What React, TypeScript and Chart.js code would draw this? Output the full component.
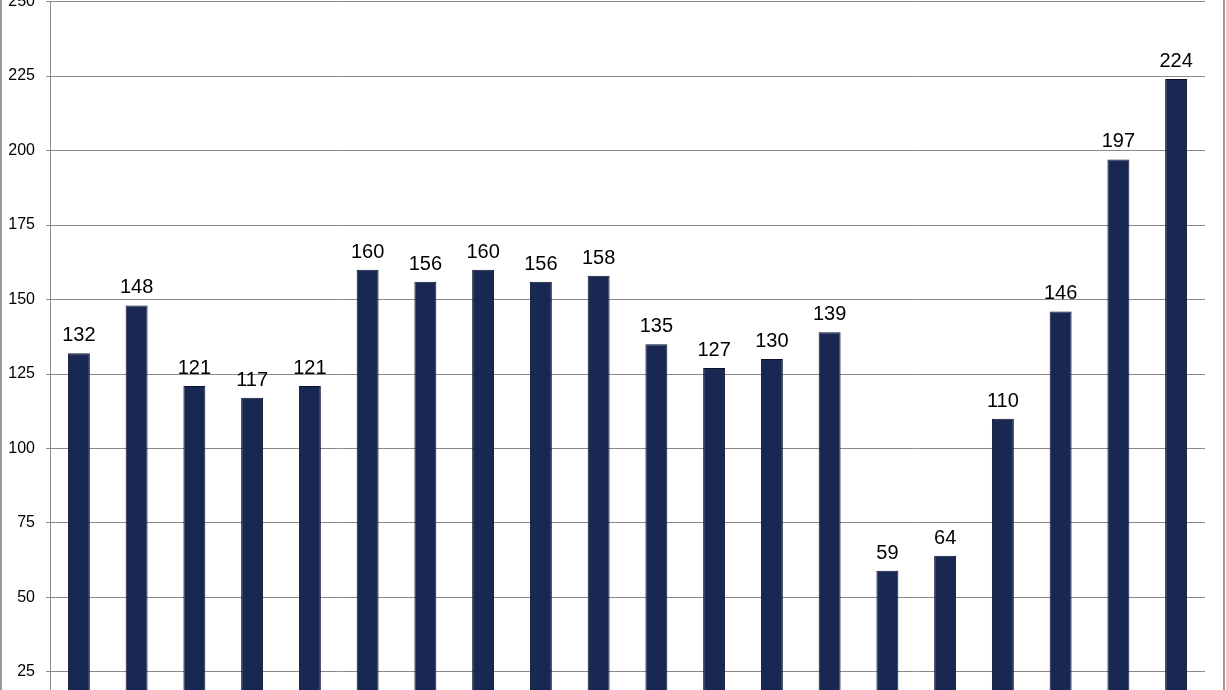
import React, { useEffect, useRef } from "react";
import { Chart, registerables } from "chart.js";

Chart.register(...registerables);

const categories: string[] = [
  "1", "2", "3", "4", "5", "6", "7", "8", "9", "10",
  "11", "12", "13", "14", "15", "16", "17", "18", "19", "20",
];
const values: number[] = [
  132, 148, 121, 117, 121, 160, 156, 160, 156, 158,
  135, 127, 130, 139, 59, 64, 110, 146, 197, 224,
];
const yMin = 0;
const yMax = 250;
const yStep = 25;

const FONT = "'Liberation Sans', Arial, sans-serif";

const valueLabels = {
  id: "valueLabels",
  afterDatasetsDraw(chart: any) {
    const ctx = chart.ctx;
    const meta = chart.getDatasetMeta(0);
    ctx.save();
    ctx.font = `20px ${FONT}`;
    ctx.fillStyle = "#000";
    ctx.textAlign = "center";
    ctx.textBaseline = "alphabetic";
    meta.data.forEach((bar: any, i: number) => {
      ctx.fillText(String(values[i]), bar.x, bar.y - 12);
    });
    ctx.restore();
  },
};

export default function App() {
  const ref = useRef<HTMLCanvasElement | null>(null);

  useEffect(() => {
    if (!ref.current) return;
    const chart = new Chart(ref.current, {
      type: "bar",
      data: {
        labels: categories,
        datasets: [
          {
            data: values,
            backgroundColor: "#192853",
            borderColor: "#0a1230",
            borderWidth: 1,
            barPercentage: 0.38,
            categoryPercentage: 1,
          },
        ],
      },
      options: {
        responsive: false,
        animation: false,
        devicePixelRatio: 1,
        layout: { padding: { top: 20, right: 21, bottom: 10, left: 0 } },
        plugins: { legend: { display: false }, tooltip: { enabled: false } },
        scales: {
          x: {
            ticks: { display: false },
            grid: { display: false },
            border: { display: false },
          },
          y: {
            min: yMin,
            max: yMax,
            ticks: {
              stepSize: yStep,
              color: "#000",
              padding: 11,
              font: { family: FONT, size: 16 },
            },
            grid: { color: "#8a8a8a", lineWidth: 1, tickLength: 4 },
            border: { display: true, color: "#8a8a8a", width: 1 },
            afterFit: (scale: any) => {
              scale.width = 50;
            },
          },
        },
      },
      plugins: [valueLabels],
    });
    return () => chart.destroy();
  }, []);

  return (
    <div
      style={{
        position: "fixed",
        left: 0,
        top: 0,
        width: 1226,
        height: 690,
        overflow: "hidden",
        background: "#fff",
      }}
    >
      <div style={{ position: "absolute", left: 0, top: -19, width: 1226, height: 786 }}>
        <canvas ref={ref} width={1226} height={786} style={{ display: "block" }} />
      </div>
      <div style={{ position: "absolute", left: 0, top: 0, width: 2, height: 690, background: "#9a9a9a" }} />
      <div style={{ position: "absolute", left: 1223, top: 0, width: 2, height: 690, background: "#9a9a9a" }} />
    </div>
  );
}
